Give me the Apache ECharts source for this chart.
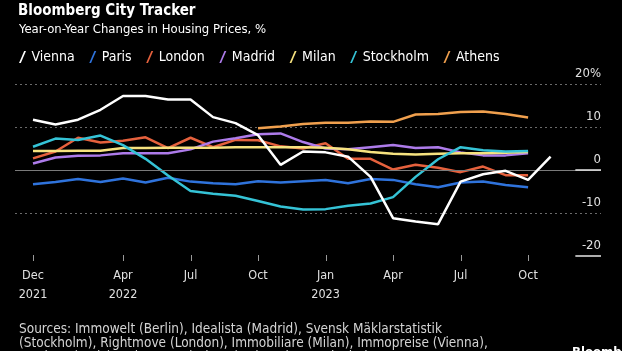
<!DOCTYPE html>
<html>
<head>
<meta charset="utf-8">
<script src="https://cdn.jsdelivr.net/npm/echarts@6/dist/echarts.min.js"></script>
<style>
  html, body { margin: 0; padding: 0; background: #000; }
  #chart { width: 622px; height: 351px; }
</style>
</head>
<body>
<div id="chart"></div>
<script>
// months Dec 2021 .. Nov 2023
const months = ['Dec 2021','Jan 2022','Feb 2022','Mar 2022','Apr 2022','May 2022','Jun 2022','Jul 2022','Aug 2022','Sep 2022','Oct 2022','Nov 2022',
  'Dec 2022','Jan 2023','Feb 2023','Mar 2023','Apr 2023','May 2023','Jun 2023','Jul 2023','Aug 2023','Sep 2023','Oct 2023','Nov 2023']

const vienna = [11.7, 10.6, 11.7, 14.0, 17.2, 17.2, 16.4, 16.4, 12.3, 10.9, 8.1, 1.2, 4.3, 4.1, 3.1, -1.6, -11.2, -12.0, -12.6, -2.7, -1.0, -0.2, -2.3, 3.1]
const paris = [-3.3, -2.8, -2.1, -2.8, -2.0, -2.9, -1.8, -2.7, -3.1, -3.3, -2.6, -2.9, -2.6, -2.3, -3.1, -2.1, -2.3, -3.3, -4.0, -2.9, -2.7, -3.5, -4.0, null]
const london = [2.7, 4.3, 7.5, 6.4, 6.8, 7.6, 5.1, 7.5, 5.3, 7.0, 6.9, 5.5, 5.0, 6.2, 2.6, 2.6, 0.1, 1.2, 0.5, -0.5, 0.8, -1.2, -1.2, null]
const madrid = [1.5, 2.9, 3.3, 3.4, 3.9, 3.9, 3.9, 4.8, 6.6, 7.4, 8.3, 8.5, 6.5, 5.0, 4.8, 5.3, 5.8, 5.1, 5.3, 4.1, 3.4, 3.4, 3.9, null]
const milan = [4.4, 4.4, 4.5, 4.5, 5.1, 5.1, 5.2, 5.2, 5.2, 5.3, 5.3, 5.3, 5.3, 5.2, 4.8, 4.2, 3.8, 3.6, 3.8, 3.9, 3.9, 4.0, 4.2, null]
const stockholm = [5.4, 7.3, 7.0, 8.0, 5.8, 2.6, -1.3, -4.9, -5.5, -6.0, -7.2, -8.5, -9.2, -9.1, -8.3, -7.8, -6.3, -1.6, 2.5, 5.3, 4.6, 4.3, 4.4, null]
const athens = [null, null, null, null, null, null, null, null, null, null, 9.7, 10.1, 10.7, 11.0, 11.0, 11.3, 11.2, 12.9, 13.0, 13.5, 13.6, 13.0, 12.2, null]

const tickMonths = [0, 4, 7, 10, 13, 16, 19, 22]
const tickLabels = ['Dec\n2021', 'Apr\n2022', 'Jul', 'Oct', 'Jan\n2023', 'Apr', 'Jul', 'Oct']

const cities = [
  { name: 'Vienna', data: vienna, color: '#ffffff' },
  { name: 'Paris', data: paris, color: '#2f73dc' },
  { name: 'London', data: london, color: '#e5613d' },
  { name: 'Madrid', data: madrid, color: '#ad7bea' },
  { name: 'Milan', data: milan, color: '#f6e27f' },
  { name: 'Stockholm', data: stockholm, color: '#35c3d6' },
  { name: 'Athens', data: athens, color: '#f0a04e' }
]

const font = '"DejaVu Sans Condensed", "DejaVu Sans", sans-serif'
const slash = 'path://M0,12 L1.8,12 L7,0 L5.2,0 Z'

const series = cities.map((c, k) => ({
  name: c.name,
  type: 'line',
  data: c.data.map((v, i) => [i, v]),
  color: c.color,
  showSymbol: false,
  symbol: 'none',
  connectNulls: false,
  z: k === 0 ? 10 : 3,
  lineStyle: { width: 2.5, color: c.color },
  emphasis: { disabled: true }
}))

// zero line across the plot
series[1].markLine = {
  silent: true,
  symbol: 'none',
  label: { show: false },
  lineStyle: { color: '#7a7a7a', type: 'solid', width: 1 },
  data: [{ yAxis: 0 }]
}

const chart = echarts.init(document.getElementById('chart'))
chart.setOption({
  backgroundColor: '#000',
  animation: false,
  textStyle: { fontFamily: font },
  title: [
    { text: 'Bloomberg City Tracker', left: 13, top: -1,
      textStyle: { color: '#fff', fontSize: 15, fontWeight: 'bold', fontFamily: font } },
    { text: 'Year-on-Year Changes in Housing Prices, %', left: 14, top: 18,
      textStyle: { color: '#fff', fontSize: 13, fontWeight: 'normal', fontFamily: font } },
    { text: 'Sources: Immowelt (Berlin), Idealista (Madrid), Svensk Mäklarstatistik\n(Stockholm), Rightmove (London), Immobiliare (Milan), Immopreise (Vienna),\nLa Place (Paris), Spitogatos (Athens), Bloomberg calculations',
      left: 14, top: 317,
      textStyle: { color: '#d4d4d4', fontSize: 13.5, fontWeight: 'normal', lineHeight: 14, fontFamily: font } },
    { text: 'Bloomberg', left: 567, top: 341,
      textStyle: { color: '#fff', fontSize: 13, fontWeight: 'bold', fontFamily: font } }
  ],
  legend: {
    left: 14, top: 45,
    itemWidth: 8, itemHeight: 12, itemGap: 14.5,
    icon: slash,
    textStyle: { color: '#fff', fontSize: 14, fontFamily: font },
    data: cities.map(c => c.name)
  },
  grid: { left: 15, right: 21, top: 84, bottom: 95 },
  xAxis: {
    type: 'value',
    min: -0.8,
    max: 25.24,
    splitLine: { show: false },
    axisLine: { show: false },
    axisTick: { show: false },
    axisLabel: {
      customValues: tickMonths,
      color: '#e0e0e0', fontSize: 12.5, lineHeight: 19, margin: 10, fontFamily: font,
      formatter: v => tickLabels[tickMonths.indexOf(Math.round(v))] || ''
    }
  },
  yAxis: {
    type: 'value',
    position: 'right',
    min: -20, max: 20, interval: 10,
    axisLine: { show: false },
    axisTick: { show: false },
    splitLine: {
      show: true,
      lineStyle: { type: [2, 3], width: 1, color: ['rgba(0,0,0,0)', '#6a6a6a', 'rgba(0,0,0,0)', '#6a6a6a', '#6a6a6a'] }
    },
    axisLabel: {
      inside: true, margin: 0, align: 'right', verticalAlign: 'bottom',
      padding: [0, 0, 4, 0],
      color: '#e0e0e0', fontSize: 13, fontFamily: font,
      formatter: v => (v === 20 ? '20%' : String(v))
    }
  },
  series
})

// short white rules beneath the 0 and -20 labels, and the month ticks
const extras = [0, -20].map(v => {
  const a = chart.convertToPixel({ gridIndex: 0 }, [24.1, v])
  const b = chart.convertToPixel({ gridIndex: 0 }, [25.24, v])
  return { type: 'line', shape: { x1: a[0], y1: a[1], x2: b[0], y2: b[1] },
    style: { stroke: '#e8e8e8', lineWidth: 1.5 }, z: 20 }
})
tickMonths.forEach(m => {
  const p = chart.convertToPixel({ gridIndex: 0 }, [m, -20])
  const x = Math.round(p[0]) + 0.5
  extras.push({ type: 'line', shape: { x1: x, y1: p[1] - 1, x2: x, y2: p[1] + 5 },
    style: { stroke: '#9a9a9a', lineWidth: 1 }, z: 20 })
})
chart.setOption({ graphic: extras })
</script>
</body>
</html>
